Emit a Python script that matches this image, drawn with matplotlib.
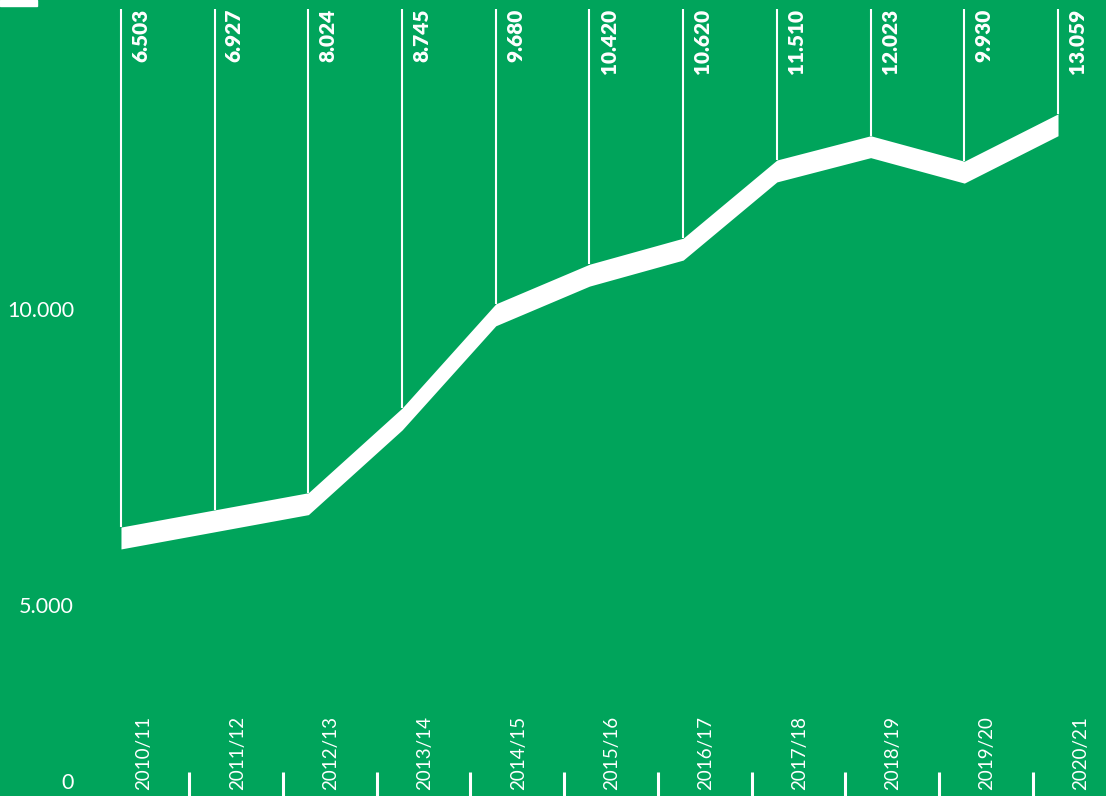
"""
Line chart on green: yearly values per season with a thick white band
"""
import numpy as np
import matplotlib
matplotlib.use("Agg")
import matplotlib.pyplot as plt
from matplotlib.patches import Rectangle

# seasons and the printed values
seasons = ["2010/11", "2011/12", "2012/13", "2013/14", "2014/15", "2015/16",
           "2016/17", "2017/18", "2018/19", "2019/20", "2020/21"]
value_labels = ["6.503", "6.927", "8.024", "8.745", "9.680", "10.420",
                "10.620", "11.510", "12.023", "9.930", "13.059"]
# where the white line sits on the y scale
line_values = [6350, 6640, 6930, 8360, 10120, 10790, 11230, 12550, 12960, 12530, 13330]
ytick_values = [5000, 10000]
ytick_labels = ["5.000", "10.000"]

GREEN = "#00A45B"
FONT = ["Lato", "DejaVu Sans"]

fig = plt.figure(figsize=(11.06, 7.96), dpi=100)
fig.patch.set_facecolor(GREEN)
ax = fig.add_axes([0, 0, 1, 1])
ax.set_facecolor(GREEN)

x = np.arange(len(seasons))
vals = np.array(line_values, dtype=float)

ax.set_xlim(-1.291, 10.512)
ax.set_ylim(1807, 15253)

# thin vertical lines from the band up to the top
ax.vlines(x, vals, 15100, color="white", lw=1.5)

# thick white band
ax.fill_between(x, vals - 370, vals, color="white", lw=0)

# value labels at the top
for xi, lab in zip(x, value_labels):
    ax.text(xi + 0.21, 0.989, lab, transform=ax.get_xaxis_transform(),
            rotation=90, ha="center", va="top", color="white",
            fontsize=15, fontweight="heavy", family=FONT)

# season labels at the bottom
for xi, lab in zip(x, seasons):
    ax.text(xi + 0.24, 0.008, lab, transform=ax.get_xaxis_transform(),
            rotation=90, ha="center", va="bottom", color="white",
            fontsize=13.5, fontweight="normal", family=FONT)

# small separators between season labels
ax.vlines(x[:-1] + 0.73, 0.0, 0.03, transform=ax.get_xaxis_transform(),
          color="white", lw=2.2)

# y labels
for v, lab in zip(ytick_values, ytick_labels):
    ax.text(0.067, v, lab, transform=ax.get_yaxis_transform(),
            ha="right", va="center", color="white",
            fontsize=15.5, fontweight="normal", family=FONT)
ax.text(0.067, 0.016, "0", transform=ax.transAxes, ha="right", va="center",
        color="white", fontsize=15.5, fontweight="normal", family=FONT)

# white mark in the top-left corner
fig.patches.append(Rectangle((0, 1 - 6 / 796), 37 / 1106, 6 / 796,
                             transform=fig.transFigure, color="white"))

ax.axis("off")
fig.savefig("out.png", dpi=100, facecolor=GREEN)
